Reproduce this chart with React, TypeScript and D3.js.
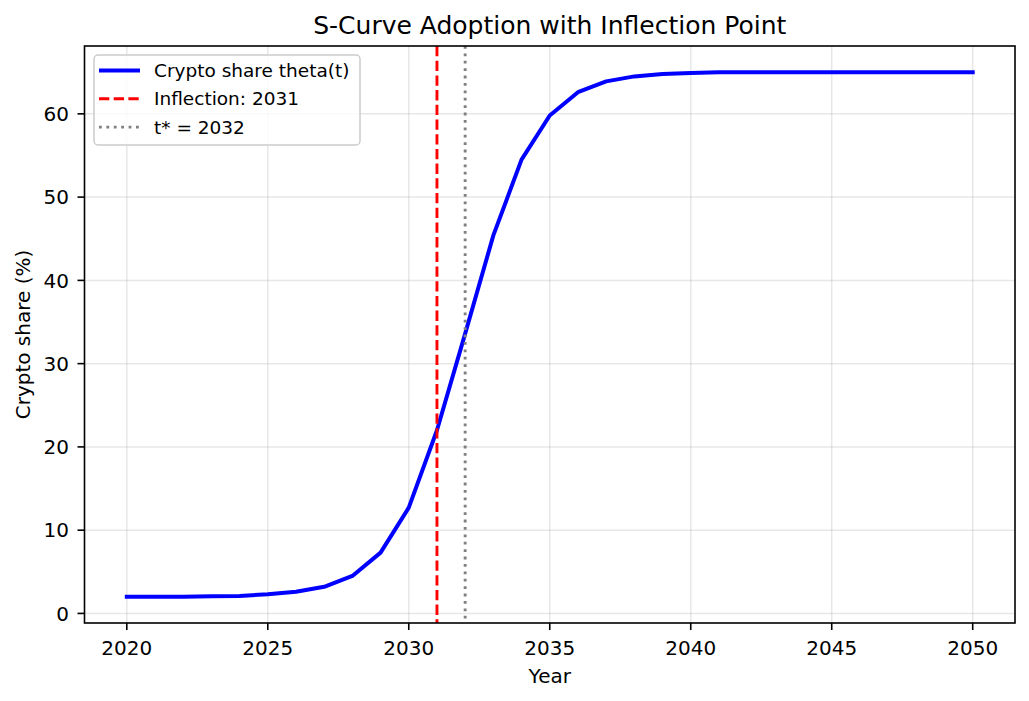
import { useEffect, useRef } from 'react';
import * as d3 from 'd3';

const W = 1029;
const H = 701;

const years = d3.range(2020, 2051);
const share = [
  2.0, 2.0, 2.0, 2.05, 2.1, 2.3, 2.6, 3.2, 4.5, 7.3, 12.7, 22.0, 33.6, 45.4, 54.5, 59.8,
  62.6, 63.9, 64.5, 64.8, 64.9, 65.0, 65.0, 65.0, 65.0, 65.0, 65.0, 65.0, 65.0, 65.0, 65.0,
];
const inflectionYear = 2031;
const tStar = 2032;
const xTicks = [2020, 2025, 2030, 2035, 2040, 2045, 2050];
const yTicks = [0, 10, 20, 30, 40, 50, 60];
const legendItems = [
  { label: 'Crypto share theta(t)', color: '#0000ff', dash: null, width: 4 },
  { label: `Inflection: ${inflectionYear}`, color: '#ff0000', dash: '10.3,4.4', width: 2.9 },
  { label: `t* = ${tStar}`, color: '#808080', dash: '2.8,4.6', width: 2.9 },
];

const FONT = '"DejaVu Sans", sans-serif';
const TICK_SIZE = 20;

export default function App() {
  const svgRef = useRef<SVGSVGElement>(null);

  useEffect(() => {
    if (!svgRef.current) return;
    const svg = d3.select(svgRef.current);
    svg.selectAll('*').remove();

    const m = { left: 84.5, right: 1015, top: 46, bottom: 623 };

    // matplotlib-style 5% margins around the data
    const [x0, x1] = d3.extent(years) as [number, number];
    const [y0, y1] = d3.extent(share) as [number, number];
    const xPad = (x1 - x0) * 0.05;
    const yPad = (y1 - y0) * 0.05;

    const x = d3.scaleLinear().domain([x0 - xPad, x1 + xPad]).range([m.left, m.right]);
    const y = d3.scaleLinear().domain([y0 - yPad, y1 + yPad]).range([m.bottom, m.top]);

    svg.append('rect').attr('width', W).attr('height', H).attr('fill', '#fff');

    // grid
    const grid = svg.append('g').attr('stroke', '#b0b0b0').attr('stroke-opacity', 0.3).attr('stroke-width', 1.5);
    xTicks.forEach((t) =>
      grid.append('line').attr('x1', x(t)).attr('x2', x(t)).attr('y1', m.top).attr('y2', m.bottom),
    );
    yTicks.forEach((t) =>
      grid.append('line').attr('x1', m.left).attr('x2', m.right).attr('y1', y(t)).attr('y2', y(t)),
    );

    svg
      .append('defs')
      .append('clipPath')
      .attr('id', 'plot-clip')
      .append('rect')
      .attr('x', m.left)
      .attr('y', m.top)
      .attr('width', m.right - m.left)
      .attr('height', m.bottom - m.top);

    const plot = svg.append('g').attr('clip-path', 'url(#plot-clip)');

    const line = d3
      .line<number>()
      .x((_, i) => x(years[i]))
      .y((d) => y(d));

    plot
      .append('path')
      .attr('d', line(share))
      .attr('fill', 'none')
      .attr('stroke', '#0000ff')
      .attr('stroke-width', 4)
      .attr('stroke-linejoin', 'round')
      .attr('stroke-linecap', 'square');

    plot
      .append('line')
      .attr('x1', x(inflectionYear))
      .attr('x2', x(inflectionYear))
      .attr('y1', m.top)
      .attr('y2', m.bottom)
      .attr('stroke', '#ff0000')
      .attr('stroke-width', 2.9)
      .attr('stroke-dasharray', '10.3,4.4');

    plot
      .append('line')
      .attr('x1', x(tStar))
      .attr('x2', x(tStar))
      .attr('y1', m.top)
      .attr('y2', m.bottom)
      .attr('stroke', '#808080')
      .attr('stroke-width', 2.9)
      .attr('stroke-dasharray', '2.8,4.6');

    // spines
    svg
      .append('rect')
      .attr('x', m.left)
      .attr('y', m.top)
      .attr('width', m.right - m.left)
      .attr('height', m.bottom - m.top)
      .attr('fill', 'none')
      .attr('stroke', '#000')
      .attr('stroke-width', 1.6);

    // ticks
    const ticks = svg.append('g').attr('font-family', FONT).attr('font-size', TICK_SIZE).attr('fill', '#000');
    xTicks.forEach((t) => {
      ticks
        .append('line')
        .attr('x1', x(t))
        .attr('x2', x(t))
        .attr('y1', m.bottom)
        .attr('y2', m.bottom + 7)
        .attr('stroke', '#000')
        .attr('stroke-width', 1.6);
      ticks
        .append('text')
        .attr('x', x(t))
        .attr('y', 655)
        .attr('text-anchor', 'middle')
        .text(t);
    });
    yTicks.forEach((t) => {
      ticks
        .append('line')
        .attr('x1', m.left - 7)
        .attr('x2', m.left)
        .attr('y1', y(t))
        .attr('y2', y(t))
        .attr('stroke', '#000')
        .attr('stroke-width', 1.6);
      ticks
        .append('text')
        .attr('x', m.left - 15.5)
        .attr('y', y(t))
        .attr('dy', '0.36em')
        .attr('text-anchor', 'end')
        .text(t);
    });

    // labels
    svg
      .append('text')
      .attr('x', (m.left + m.right) / 2)
      .attr('y', 682.5)
      .attr('text-anchor', 'middle')
      .attr('font-family', FONT)
      .attr('font-size', TICK_SIZE)
      .text('Year');
    svg
      .append('text')
      .attr('transform', `translate(29.5,${(m.top + m.bottom) / 2}) rotate(-90)`)
      .attr('text-anchor', 'middle')
      .attr('font-family', FONT)
      .attr('font-size', TICK_SIZE)
      .text('Crypto share (%)');
    svg
      .append('text')
      .attr('x', (m.left + m.right) / 2)
      .attr('y', 33.5)
      .attr('text-anchor', 'middle')
      .attr('font-family', FONT)
      .attr('font-size', 25)
      .text('S-Curve Adoption with Inflection Point');

    // legend
    const lg = svg.append('g');
    lg.append('rect')
      .attr('x', 94)
      .attr('y', 55)
      .attr('width', 266)
      .attr('height', 90)
      .attr('rx', 4)
      .attr('fill', '#fff')
      .attr('fill-opacity', 0.8)
      .attr('stroke', '#cccccc')
      .attr('stroke-width', 1.5);
    legendItems.forEach((item, i) => {
      const cy = 70.5 + i * 28.3;
      lg.append('line')
        .attr('x1', 99)
        .attr('x2', 140)
        .attr('y1', cy)
        .attr('y2', cy)
        .attr('stroke', item.color)
        .attr('stroke-width', item.width)
        .attr('stroke-dasharray', item.dash);
      lg.append('text')
        .attr('x', 154)
        .attr('y', cy)
        .attr('dy', '0.36em')
        .attr('font-family', FONT)
        .attr('font-size', 18.5)
        .text(item.label);
    });
  }, []);

  return (
    <div style={{ position: 'absolute', left: 0, top: 0 }}>
      <svg ref={svgRef} width={W} height={H} style={{ display: 'block' }} />
    </div>
  );
}
